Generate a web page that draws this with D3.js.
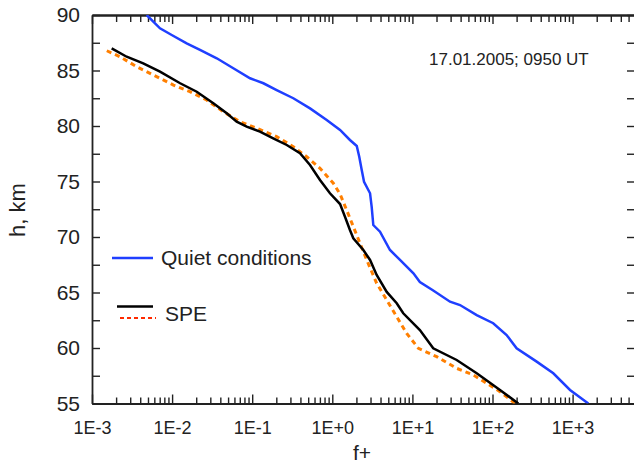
<!DOCTYPE html>
<html>
<head>
<meta charset="utf-8">
<script src="https://cdn.jsdelivr.net/npm/d3@7"></script>
<style>
  body { margin: 0; background: #fff; }
  text { font-family: 'Liberation Sans', Arial, sans-serif; fill: #222; }
</style>
</head>
<body>
<div id="chart"></div>
<script>
// f+ vs height
const quietF = [0.00482, 0.00706, 0.00989, 0.0152, 0.0223, 0.0361, 0.0581, 0.094, 0.138, 0.202, 0.326, 0.527,
  0.851, 1.25, 1.66, 2.02, 2.17, 2.33, 2.49, 2.96, 3.1, 3.25, 3.94, 5.25, 7.0, 10.3, 12.4, 18.2, 29.5, 39.3,
  63.5, 102, 150, 200, 356, 574, 929, 1570];
const quietH = [90, 88.8, 88.2, 87.45, 86.85, 86.1, 85.2, 84.3, 83.85, 83.24, 82.5, 81.59,
  80.54, 79.64, 78.74, 78.2, 77.23, 76.04, 74.98, 73.94, 72.73, 71.08, 70.48, 68.83, 67.93, 66.73, 65.95, 65.18, 64.17, 63.87,
  62.97, 62.23, 61.17, 59.97, 58.77, 57.72, 56.22, 55];

const speF = [0.00176, 0.00271, 0.00436, 0.00706, 0.0126, 0.0203, 0.0327, 0.0481, 0.064, 0.0853, 0.125, 0.183,
  0.27, 0.395, 0.527, 0.702, 0.935, 1.25, 1.44, 1.66, 1.83, 2.44, 2.96, 3.58, 4.78, 6.37, 7.69, 12.4, 18.2,
  35.7, 63.5, 124, 210];
const speH = [87, 86.24, 85.65, 84.89, 83.85, 83.09, 82.05, 81.14, 80.39, 79.94, 79.49, 78.89,
  78.29, 77.54, 76.49, 75.14, 73.94, 72.97, 71.83, 70.63, 69.88, 68.83, 67.93, 66.58, 65.05, 64.03, 63.13, 61.62, 59.97,
  58.92, 57.72, 56.22, 55];

const speAltF = [0.00153, 0.00224, 0.00361, 0.00582, 0.0104, 0.0167, 0.027, 0.0435, 0.0705, 0.114, 0.202, 0.326,
  0.479, 0.702, 1.03, 1.25, 1.51, 1.83, 2.22, 2.69, 3.58, 4.78, 6.37, 8.49, 11.9, 20.1, 35.7, 57.5, 84.7, 124, 191];
const speAltH = [86.78, 86.24, 85.34, 84.59, 83.69, 83.09, 82.34, 81.29, 80.39, 79.79, 79.04, 78.14,
  77.23, 76.19, 74.84, 73.87, 72.43, 70.93, 69.43, 67.93, 65.83, 64.32, 62.82, 61.32, 59.97, 59.22, 58.17, 57.57, 56.82, 56.07, 55];

const xDecades = [1e-3, 1e-2, 1e-1, 1e0, 1e1, 1e2, 1e3, 1e4];
const yTicks = d3.range(55, 90.1, 2.5);
const annotation = '17.01.2005; 0950 UT';

const W = 634,
  H = 467,
  plot = { left: 92, top: 15, right: 635, bottom: 403.5 };

const svg = d3.select('#chart')
  .append('svg')
  .attr('width', W)
  .attr('height', H);

svg.append('rect').attr('width', W).attr('height', H).attr('fill', '#fff');

const x = d3.scaleLog()
  .domain([1e-3, 1e4])
  .range([plot.left, plot.left + 7 * 80.1]);

const y = d3.scaleLinear()
  .domain([55, 90])
  .range([plot.bottom, plot.top]);

const minorTicks = x.ticks().filter(d => !xDecades.some(m => Math.abs(d / m - 1) < 1e-6));

const fmtExp = d => {
  const e = Math.round(Math.log10(d));
  return '1E' + (e < 0 ? '-' : '+') + Math.abs(e);
};

const styleAxis = g => {
  g.selectAll('path, line').attr('stroke', '#222').attr('stroke-width', 1.4);
  g.select('.domain').attr('stroke-width', 1.8);
};

// bottom axis: decades with labels, then minor ticks
svg.append('g')
  .attr('transform', `translate(0,${plot.bottom})`)
  .call(d3.axisBottom(x).tickValues(xDecades.slice(0, 7)).tickSizeInner(-9).tickSizeOuter(0)
    .tickPadding(18).tickFormat(fmtExp))
  .call(styleAxis)
  .call(g => g.selectAll('text').attr('font-size', 18).attr('fill', '#222')
    .attr('font-family', "'Liberation Sans', Arial, sans-serif"));

svg.append('g')
  .attr('transform', `translate(0,${plot.bottom})`)
  .call(d3.axisBottom(x).tickValues(minorTicks).tickSizeInner(-6).tickSizeOuter(0).tickFormat(''))
  .call(styleAxis);

// top axis, no labels
svg.append('g')
  .attr('transform', `translate(0,${plot.top})`)
  .call(d3.axisTop(x).tickValues(xDecades).tickSizeInner(-9).tickSizeOuter(0).tickFormat(''))
  .call(styleAxis);

svg.append('g')
  .attr('transform', `translate(0,${plot.top})`)
  .call(d3.axisTop(x).tickValues(minorTicks).tickSizeInner(-7).tickSizeOuter(0).tickFormat(''))
  .call(styleAxis);

// left axis, minor ticks every 2.5 km
svg.append('g')
  .attr('transform', `translate(${plot.left},0)`)
  .call(d3.axisLeft(y).tickValues(yTicks).tickSizeInner(-8).tickSizeOuter(0).tickPadding(12)
    .tickFormat(d => (d % 5 === 0 ? d : '')))
  .call(styleAxis)
  .call(g => g.selectAll('text').attr('font-size', 21).attr('fill', '#222')
    .attr('font-family', "'Liberation Sans', Arial, sans-serif"));

svg.append('g')
  .attr('transform', `translate(${plot.right},0)`)
  .call(d3.axisRight(y).tickValues(yTicks).tickSizeInner(-8).tickSizeOuter(0).tickFormat(''))
  .call(styleAxis);

// curves
svg.append('clipPath')
  .attr('id', 'plot-clip')
  .append('rect')
  .attr('x', plot.left)
  .attr('y', plot.top)
  .attr('width', plot.right - plot.left)
  .attr('height', plot.bottom - plot.top);

const lineFn = d3.line()
  .x(d => x(d[0]))
  .y(d => y(d[1]));

const zip = (fs, hs) => fs.map((f, i) => [f, hs[i]]);

const ink = svg.append('g').attr('clip-path', 'url(#plot-clip)');

ink.append('path')
  .attr('d', lineFn(zip(speAltF, speAltH)))
  .attr('fill', 'none')
  .attr('stroke', '#ff7f00')
  .attr('stroke-width', 3)
  .attr('stroke-dasharray', '5,4');

ink.append('path')
  .attr('d', lineFn(zip(speF, speH)))
  .attr('fill', 'none')
  .attr('stroke', '#000')
  .attr('stroke-width', 2.5);

ink.append('path')
  .attr('d', lineFn(zip(quietF, quietH)))
  .attr('fill', 'none')
  .attr('stroke', '#1f3fff')
  .attr('stroke-width', 2.5);

// legend
const legend = svg.append('g');

legend.append('line')
  .attr('x1', 112).attr('x2', 153).attr('y1', 258).attr('y2', 258)
  .attr('stroke', '#1f3fff').attr('stroke-width', 2.5);

legend.append('text')
  .attr('x', 161).attr('y', 265)
  .attr('font-size', 21)
  .text('Quiet conditions');

legend.append('line')
  .attr('x1', 117).attr('x2', 153).attr('y1', 306.5).attr('y2', 306.5)
  .attr('stroke', '#000').attr('stroke-width', 2.5);

legend.append('line')
  .attr('x1', 120).attr('x2', 156).attr('y1', 318).attr('y2', 318)
  .attr('stroke', '#ff2a00').attr('stroke-width', 2).attr('stroke-dasharray', '4,3');

legend.append('text')
  .attr('x', 165).attr('y', 321)
  .attr('font-size', 21)
  .text('SPE');

svg.append('text')
  .attr('x', 429).attr('y', 65)
  .attr('font-size', 17)
  .text(annotation);

// axis titles
svg.append('text')
  .attr('x', 362).attr('y', 460)
  .attr('text-anchor', 'middle')
  .attr('font-size', 21)
  .text('f+');

svg.append('text')
  .attr('transform', 'translate(25,210) rotate(-90)')
  .attr('text-anchor', 'middle')
  .attr('font-size', 22)
  .text('h, km');
</script>
</body>
</html>
